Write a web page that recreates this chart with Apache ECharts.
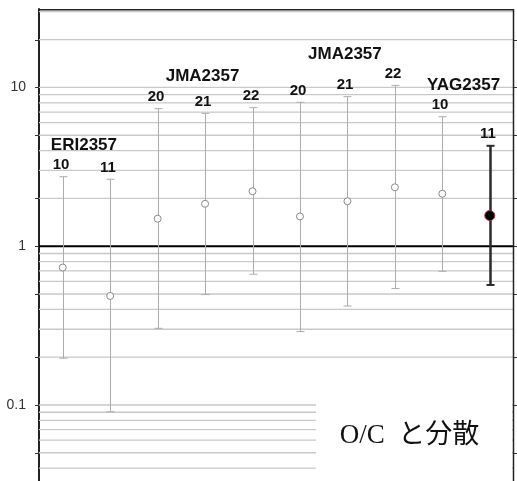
<!DOCTYPE html>
<html>
<head>
<meta charset="utf-8">
<script src="https://cdn.jsdelivr.net/npm/echarts@6/dist/echarts.min.js"></script>
<style>
  html, body { margin: 0; padding: 0; background: #fff; }
  #chart { width: 517px; height: 481px; }
</style>
</head>
<body>
<div id="chart"></div>
<script>
// Observation runs, one slot per run
const categories = ['ERI2357-10', 'ERI2357-11', 'JMA2357-20', 'JMA2357-21', 'JMA2357-22',
                    'JMA2357-20b', 'JMA2357-21b', 'JMA2357-22b', 'YAG2357-10', 'YAG2357-11'];
const runLabels = ['10', '11', '20', '21', '22', '20', '21', '22', '10', '11'];

// Run groups (first / last slot of each group)
const groupNames = ['ERI2357', 'JMA2357', 'JMA2357', 'YAG2357'];
const groupFirst = [0, 2, 5, 8];
const groupLast = [1, 4, 7, 9];

// O/C ratio and its spread (lower / upper bound)
const ocValues    = [0.734, 0.486, 1.49, 1.85, 2.22, 1.54, 1.92, 2.35, 2.14, 1.56];
const upperValues = [2.74, 2.64, 7.35, 6.87, 7.46, 8.06, 8.75, 10.3, 6.54, 4.29];
const lowerValues = [0.197, 0.0906, 0.304, 0.496, 0.666, 0.29, 0.42, 0.541, 0.695, 0.570];
const highlightIndex = 9;

// Log axis decoration
const gridValues = [0.04, 0.05, 0.06, 0.07, 0.08, 0.09,
                    0.1, 0.2, 0.3, 0.4, 0.5, 0.6, 0.7, 0.8, 0.9,
                    2, 3, 4, 5, 6, 7, 8, 9,
                    10, 20, 30];
const unityValue = 1;
const tickValues = [0.05, 0.1, 0.2, 0.5, 1, 2, 5, 10, 20];
const yMin = 0.0332;
const yMax = 31.2;

const titleText = 'O/C  と分散';

const chart = echarts.init(document.getElementById('chart'), null, { renderer: 'canvas' });

function gridLineItem(params, api) {
  const cs = params.coordSys;
  const v = api.value(1);
  const y = api.coord([0, v])[1];
  const isUnity = v === unityValue;
  return {
    type: 'line',
    shape: { x1: cs.x, y1: y, x2: cs.x + cs.width, y2: y },
    style: { stroke: isUnity ? '#000' : '#c9c9c9', lineWidth: isUnity ? 2 : 1.3 }
  };
}

function tickItem(params, api) {
  const cs = params.coordSys;
  const y = Math.round(api.coord([0, api.value(1)])[1]) + 0.5;
  return {
    type: 'group',
    children: [
      { type: 'line', shape: { x1: cs.x - 4, y1: y, x2: cs.x, y2: y }, style: { stroke: '#333', lineWidth: 1 } },
      { type: 'line', shape: { x1: cs.x + cs.width, y1: y, x2: cs.x + cs.width + 4, y2: y }, style: { stroke: '#333', lineWidth: 1 } }
    ]
  };
}

// Top and right edges of the plot frame (the bottom edge sits below the visible area)
function frameItem(params, api) {
  const cs = params.coordSys;
  const x0 = cs.x, x1 = cs.x + cs.width, y0 = cs.y + 0.75;
  return {
    type: 'polyline',
    shape: { points: [[x0, y0], [x1, y0], [x1, cs.y + cs.height + 2]] },
    style: { stroke: '#222', lineWidth: 1.5, fill: null }
  };
}

function errorBarItem(params, api) {
  const i = api.value(0);
  const lo = api.coord([i, api.value(1)]);
  const hi = api.coord([i, api.value(2)]);
  const x = Math.round(lo[0]) + 0.5;
  const strong = params.dataIndex === highlightIndex;
  const stroke = strong ? '#2a2a2a' : '#acacac';
  const lw = strong ? 2.5 : 1;
  const capW = 4;
  return {
    type: 'group',
    children: [
      { type: 'line', shape: { x1: x, y1: lo[1], x2: x, y2: hi[1] }, style: { stroke: stroke, lineWidth: lw } },
      { type: 'line', shape: { x1: x - capW, y1: hi[1], x2: x + capW, y2: hi[1] }, style: { stroke: stroke, lineWidth: strong ? 2 : 1 } },
      { type: 'line', shape: { x1: x - capW, y1: lo[1], x2: x + capW, y2: lo[1] }, style: { stroke: stroke, lineWidth: strong ? 2 : 1 } },
      {
        type: 'text',
        style: {
          x: x - 2.5, y: hi[1] - 11.5,
          text: runLabels[params.dataIndex],
          fill: '#111',
          font: 'bold 15px "Liberation Sans", Arial, sans-serif',
          align: 'center', verticalAlign: 'middle'
        }
      }
    ]
  };
}

function groupLabelItem(params, api) {
  const first = api.value(0);
  const last = api.value(1);
  const top = api.value(2);
  const a = api.coord([first, top]);
  const b = api.coord([last, top]);
  return {
    type: 'text',
    style: {
      x: (a[0] + b[0]) / 2 - 2.5, y: a[1] - 31,
      text: groupNames[params.dataIndex],
      fill: '#111',
      font: 'bold 17px "Liberation Sans", Arial, sans-serif',
      align: 'center', verticalAlign: 'middle'
    }
  };
}

const errorData = categories.map((c, i) => [i, lowerValues[i], upperValues[i]]);
const groupData = groupNames.map((n, g) => [
  groupFirst[g], groupLast[g],
  Math.max.apply(null, upperValues.slice(groupFirst[g], groupLast[g] + 1))
]);
const pointData = ocValues.map((v, i) => {
  if (i === highlightIndex) {
    return {
      value: [i, v],
      symbolSize: 10,
      itemStyle: { color: '#000', borderColor: '#a83232', borderWidth: 1 }
    };
  }
  return [i, v];
});

chart.setOption({
  animation: false,
  backgroundColor: '#fff',
  grid: {
    left: 39, top: 9, right: 3.5, bottom: 0,
    show: false
  },
  xAxis: {
    type: 'category',
    data: categories,
    boundaryGap: true,
    show: false
  },
  yAxis: {
    type: 'log',
    logBase: 10,
    min: yMin,
    max: yMax,
    axisLine: { show: true, lineStyle: { color: '#222', width: 2 } },
    axisTick: { show: false },
    splitLine: { show: false },
    axisLabel: {
      showMinLabel: false,
      showMaxLabel: false,
      margin: 13,
      color: '#333',
      fontSize: 14,
      fontFamily: '"Liberation Sans", Arial, sans-serif',
      formatter: v => String(v)
    }
  },
  series: [
    {
      type: 'custom', name: 'grid', z: 1, silent: true,
      renderItem: gridLineItem,
      data: gridValues.concat([unityValue]).map(v => [0, v]),
      encode: { x: 0, y: 1 }
    },
    {
      type: 'custom', name: 'ticks', z: 1, silent: true,
      renderItem: tickItem,
      data: tickValues.map(v => [0, v]),
      encode: { x: 0, y: 1 }
    },
    {
      type: 'custom', name: 'frame', z: 2, silent: true,
      renderItem: frameItem,
      data: [[0, yMax]],
      encode: { x: 0, y: 1 }
    },
    {
      type: 'custom', name: 'spread', z: 3, silent: true,
      renderItem: errorBarItem,
      data: errorData,
      encode: { x: 0, y: [1, 2] }
    },
    {
      type: 'custom', name: 'groups', z: 3, silent: true,
      renderItem: groupLabelItem,
      data: groupData,
      encode: { x: 0, y: 2 }
    },
    {
      type: 'scatter', name: 'O/C', z: 4, silent: true,
      symbol: 'circle',
      symbolSize: 7,
      itemStyle: { color: '#fff', borderColor: '#8a8a8a', borderWidth: 1, opacity: 1 },
      data: pointData
    }
  ],
  graphic: [
    {
      type: 'rect', z: 100,
      shape: { x: 316, y: 392, width: 196, height: 89 },
      style: { fill: '#fff' }
    },
    {
      type: 'text', z: 101,
      style: {
        x: 409.5, y: 436,
        text: titleText,
        fill: '#111',
        font: '27px "Liberation Serif", "Noto Sans CJK JP", serif',
        align: 'center', verticalAlign: 'middle'
      }
    }
  ]
});
</script>
</body>
</html>
